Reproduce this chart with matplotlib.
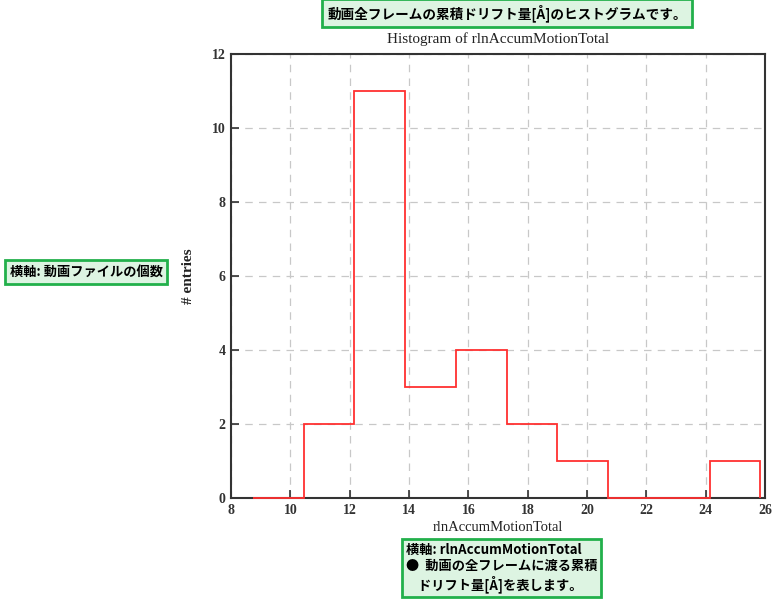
import matplotlib
matplotlib.use("Agg")
import matplotlib.pyplot as plt
import numpy as np

bin_edges = [8.74, 10.45, 12.16, 13.87, 15.58, 17.29, 19.0, 20.71, 22.42, 24.13, 25.84]
counts = [0, 2, 11, 3, 4, 2, 1, 0, 0, 1]
xticks = [8, 10, 12, 14, 16, 18, 20, 22, 24, 26]
yticks = [0, 2, 4, 6, 8, 10, 12]

title = "Histogram of rlnAccumMotionTotal"
xlabel = "rlnAccumMotionTotal"
ylabel = "# entries"
note_top = "動画全フレームの累積ドリフト量[Å]のヒストグラムです。"
note_left = "横軸: 動画ファイルの個数"
note_bottom = "横軸: rlnAccumMotionTotal\n●  動画の全フレームに渡る累積\n    ドリフト量[Å]を表します。"

serif = ["Liberation Serif", "DejaVu Serif"]
cjk = ["Noto Sans CJK JP", "DejaVu Sans"]

fig = plt.figure(figsize=(7.84, 6.0), dpi=100)
ax = fig.add_axes([231/784, 1-498/600, (765-231)/784, (498-54)/600])

ax.stairs(counts, bin_edges, color="#ff3030", linewidth=1.3, zorder=5, clip_on=False)

ax.set_xlim(8, 26)
ax.set_ylim(0, 12)
ax.set_xticks(xticks)
ax.set_yticks(yticks)
ax.grid(True, color="#c8c8c8", linestyle=(0, (6, 5)), linewidth=0.9)
ax.set_axisbelow(True)
for s in ax.spines.values():
    s.set_linewidth(1.5)
    s.set_color("#333333")
    s.set_zorder(2)
ax.tick_params(direction="in", length=6, width=1.2, colors="#333333", labelcolor="#333333", pad=4)
for lab in ax.get_xticklabels() + ax.get_yticklabels():
    lab.set_fontfamily(serif)
    lab.set_fontsize(10)
    lab.set_fontweight("bold")

ax.set_title(title, fontfamily=serif, fontsize=11, pad=8, color="#222222")
ax.set_xlabel(xlabel, fontfamily=serif, fontsize=10.5, labelpad=3, color="#222222")
ax.set_ylabel(ylabel, fontfamily=serif, fontsize=11, fontweight="bold", labelpad=12, color="#222222")

box = dict(boxstyle="square,pad=0.35", facecolor="#ddf4e2", edgecolor="#22b04b", linewidth=2)
fig.text(507/784, 1-13/600, note_top, ha="center", va="center", fontfamily=cjk,
         fontsize=9.8, fontweight="bold", bbox=box)
fig.text(86/784, 1-272/600, note_left, ha="center", va="center", fontfamily=cjk,
         fontsize=9.5, fontweight="bold", bbox=box)
fig.text(406/784, 1-568/600, note_bottom, ha="left", va="center", fontfamily=cjk,
         fontsize=9.5, fontweight="bold", linespacing=1.2,
         bbox=dict(boxstyle="square,pad=0.3", facecolor="#ddf4e2", edgecolor="#22b04b", linewidth=2))

fig.savefig("out.png", dpi=100)
